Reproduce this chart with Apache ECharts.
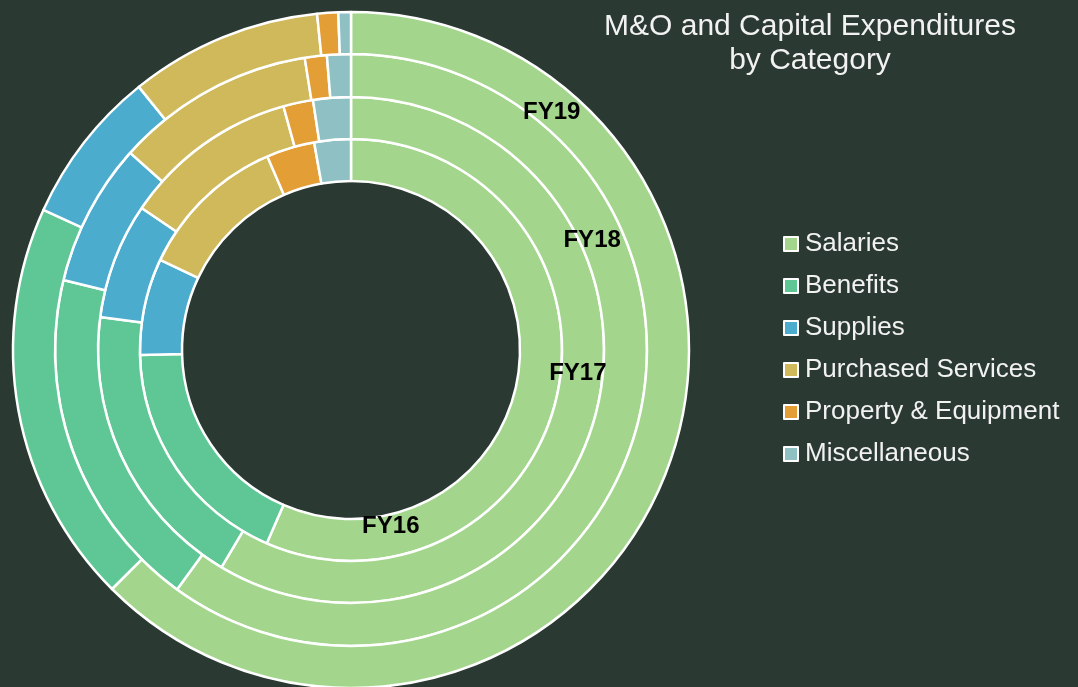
<!DOCTYPE html>
<html>
<head>
<meta charset="utf-8">
<script src="https://cdn.jsdelivr.net/npm/echarts@6/dist/echarts.min.js"></script>
<style>
html,body{margin:0;padding:0;background:#2b3933;}
#chart{width:1078px;height:687px;}
</style>
</head>
<body>
<div id="chart"></div>
<script>
// Data (percent of total)
const categories = ['Salaries', 'Benefits', 'Supplies', 'Purchased Services', 'Property & Equipment', 'Miscellaneous'];
const years = ['FY16', 'FY17', 'FY18', 'FY19'];
const fy16 = [56.6, 18.1, 7.4, 11.5, 3.7, 2.8];
const fy17 = [58.5, 18.5, 7.4, 11.2, 1.9, 2.4];
const fy18 = [60.0, 18.8, 7.8, 10.9, 1.2, 1.3];
const fy19 = [62.5, 19.3, 7.4, 9.2, 1.0, 0.6];
const yearValues = [fy16, fy17, fy18, fy19];

// Styling / layout
const colors = ['#a3d68c', '#5ec795', '#4bacce', '#cfb95a', '#e39e36', '#8fc0c4'];
const cx = 351, cy = 350;
const ringRadii = [[169, 211], [211, 253], [253, 296], [296, 338]];
const labelAngles = [167.3, 95.8, 65.5, 40.2]; // degrees clockwise from top
const labelRadii = [181, 228, 265, 311];

const series = years.map((y, i) => ({
  name: y,
  type: 'pie',
  center: [cx, cy],
  radius: ringRadii[i],
  startAngle: 90,
  clockwise: true,
  avoidLabelOverlap: false,
  label: { show: false },
  labelLine: { show: false },
  emphasis: { disabled: true },
  silent: true,
  animation: false,
  itemStyle: { borderColor: '#ffffff', borderWidth: 2.5 },
  data: categories.map((c, j) => ({ name: c, value: yearValues[i][j] }))
}));

const graphics = years.map((y, i) => {
  const r = labelRadii[i];
  const a = labelAngles[i] * Math.PI / 180;
  return {
    type: 'text',
    x: cx + r * Math.sin(a),
    y: cy - r * Math.cos(a),
    style: {
      text: y,
      fill: '#000000',
      font: 'bold 24px "Liberation Sans", Arial, sans-serif',
      textAlign: 'center',
      textVerticalAlign: 'middle'
    },
    z: 100
  };
});

const chart = echarts.init(document.getElementById('chart'), null, { renderer: 'canvas' });
chart.setOption({
  backgroundColor: '#2b3933',
  color: colors,
  animation: false,
  title: {
    text: 'M&O and Capital Expenditures\nby Category',
    left: 805,
    top: 5,
    textAlign: 'center',
    textStyle: {
      color: '#f2f2f2',
      fontFamily: '"Liberation Sans", Arial, sans-serif',
      fontWeight: 'normal',
      fontSize: 30,
      lineHeight: 34
    }
  },
  legend: {
    orient: 'vertical',
    left: 778,
    top: 226,
    itemWidth: 14,
    itemHeight: 14,
    itemGap: 16,
    icon: 'rect',
    selectedMode: false,
    data: categories,
    itemStyle: { borderColor: '#ffffff', borderWidth: 2 },
    textStyle: {
      color: '#f2f2f2',
      fontFamily: '"Liberation Sans", Arial, sans-serif',
      fontSize: 26,
      lineHeight: 25,
      padding: [0, 0, 0, 2]
    }
  },
  graphic: graphics,
  series: series
});
</script>
</body>
</html>
